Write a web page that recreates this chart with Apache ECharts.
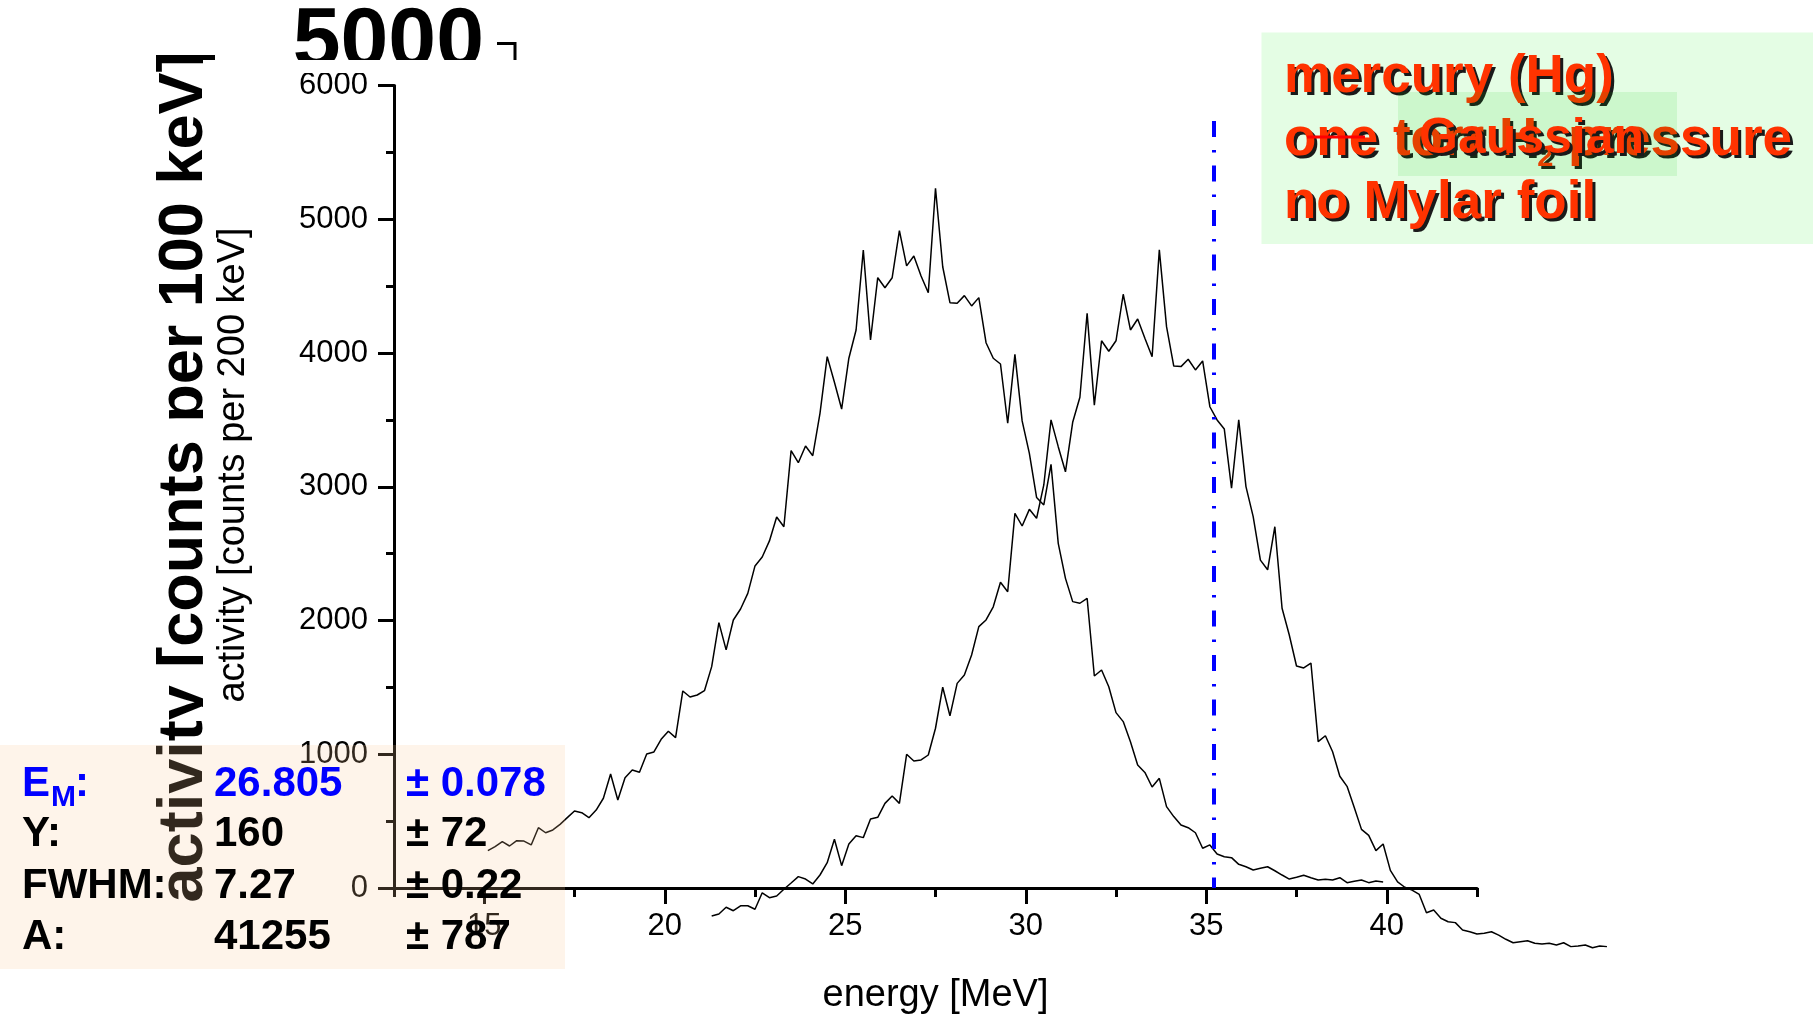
<!DOCTYPE html>
<html>
<head>
<meta charset="utf-8">
<title>activity vs energy</title>
<script src="https://cdn.jsdelivr.net/npm/echarts@6/dist/echarts.min.js"></script>
<style>
  html, body { margin: 0; padding: 0; background: #ffffff; }
  #chart { width: 1813px; height: 1014px; }
</style>
</head>
<body>
<div id="chart"></div>
<script>
// Spectrum A: counts per 200 keV bin, bin centres in MeV
const energyA = [
  15.1, 15.3, 15.5, 15.7, 15.9, 16.1, 16.3, 16.5, 16.7, 16.9,
  17.1, 17.3, 17.5, 17.7, 17.9, 18.1, 18.3, 18.5, 18.7, 18.9,
  19.1, 19.3, 19.5, 19.7, 19.9, 20.1, 20.3, 20.5, 20.7, 20.9,
  21.1, 21.3, 21.5, 21.7, 21.9, 22.1, 22.3, 22.5, 22.7, 22.9,
  23.1, 23.3, 23.5, 23.7, 23.9, 24.1, 24.3, 24.5, 24.7, 24.9,
  25.1, 25.3, 25.5, 25.7, 25.9, 26.1, 26.3, 26.5, 26.7, 26.9,
  27.1, 27.3, 27.5, 27.7, 27.9, 28.1, 28.3, 28.5, 28.7, 28.9,
  29.1, 29.3, 29.5, 29.7, 29.9, 30.1, 30.3, 30.5, 30.7, 30.9,
  31.1, 31.3, 31.5, 31.7, 31.9, 32.1, 32.3, 32.5, 32.7, 32.9,
  33.1, 33.3, 33.5, 33.7, 33.9, 34.1, 34.3, 34.5, 34.7, 34.9,
  35.1, 35.3, 35.5, 35.7, 35.9, 36.1, 36.3, 36.5, 36.7, 36.9,
  37.1, 37.3, 37.5, 37.7, 37.9, 38.1, 38.3, 38.5, 38.7, 38.9,
  39.1, 39.3, 39.5, 39.7, 39.9
];
const countsA = [
  279, 309, 346, 314, 354, 351, 322, 451, 413, 434,
  476, 526, 576, 563, 526, 583, 671, 852, 658, 825,
  882, 865, 1002, 1017, 1112, 1172, 1124, 1473, 1428, 1443,
  1475, 1655, 1984, 1780, 2004, 2086, 2203, 2408, 2475, 2595,
  2774, 2701, 3270, 3180, 3305, 3232, 3549, 3973, 3781, 3581,
  3961, 4172, 4770, 4097, 4563, 4488, 4563, 4915, 4651, 4725,
  4576, 4451, 5232, 4645, 4376, 4372, 4429, 4352, 4414, 4077,
  3961, 3918, 3475, 3990, 3492, 3250, 2920, 2864, 3168, 2577,
  2315, 2141, 2129, 2166, 1585, 1630, 1505, 1311, 1244, 1094,
  919, 864, 755, 820, 608, 534, 471, 451, 413, 297,
  322, 254, 234, 227, 177, 159, 135, 147, 159, 129,
  97, 67, 80, 95, 77, 60, 65, 60, 77, 40,
  50, 60, 40, 52, 45
];

// Spectrum B: second measurement, drawn on its own (hidden) scale
const energyB = [
  21.3, 21.5, 21.7, 21.9, 22.1, 22.3, 22.5, 22.7, 22.9, 23.1,
  23.3, 23.5, 23.7, 23.9, 24.1, 24.3, 24.5, 24.7, 24.9, 25.1,
  25.3, 25.5, 25.7, 25.9, 26.1, 26.3, 26.5, 26.7, 26.9, 27.1,
  27.3, 27.5, 27.7, 27.9, 28.1, 28.3, 28.5, 28.7, 28.9, 29.1,
  29.3, 29.5, 29.7, 29.9, 30.1, 30.3, 30.5, 30.7, 30.9, 31.1,
  31.3, 31.5, 31.7, 31.9, 32.1, 32.3, 32.5, 32.7, 32.9, 33.1,
  33.3, 33.5, 33.7, 33.9, 34.1, 34.3, 34.5, 34.7, 34.9, 35.1,
  35.3, 35.5, 35.7, 35.9, 36.1, 36.3, 36.5, 36.7, 36.9, 37.1,
  37.3, 37.5, 37.7, 37.9, 38.1, 38.3, 38.5, 38.7, 38.9, 39.1,
  39.3, 39.5, 39.7, 39.9, 40.1, 40.3, 40.5, 40.7, 40.9, 41.1,
  41.3, 41.5, 41.7, 41.9, 42.1, 42.3, 42.5, 42.7, 42.9, 43.1,
  43.3, 43.5, 43.7, 43.9, 44.1, 44.3, 44.5, 44.7, 44.9, 45.1,
  45.3, 45.5, 45.7, 45.9, 46.1
];
const countsB = [
  240, 251, 288, 269, 296, 296, 277, 367, 340, 349,
  386, 420, 455, 442, 415, 464, 531, 659, 515, 633,
  678, 668, 770, 779, 855, 895, 855, 1123, 1086, 1092,
  1119, 1265, 1489, 1333, 1510, 1556, 1665, 1820, 1856, 1928,
  2062, 2010, 2438, 2369, 2460, 2411, 2593, 2948, 2802, 2665,
  2935, 3072, 3530, 3029, 3380, 3323, 3380, 3634, 3439, 3499,
  3394, 3293, 3876, 3457, 3242, 3239, 3279, 3221, 3270, 3020,
  2948, 2898, 2575, 2948, 2584, 2420, 2183, 2130, 2365, 1920,
  1774, 1605, 1594, 1621, 1192, 1224, 1137, 1003, 948, 832,
  713, 680, 597, 633, 489, 426, 397, 382, 358, 258,
  273, 228, 209, 204, 164, 154, 142, 146, 154, 136,
  113, 94, 100, 105, 91, 87, 91, 82, 94, 73,
  76, 82, 67, 76, 73
];

// Axis ticks
const xMajorTicks = [15, 20, 25, 30, 35, 40];

// Fitted peak position marker (MeV) and its height on the count scale
const markerEnergy = 35.2;
const markerTop = 5735;

// Fit results table
const fitNames = ['E', 'Y:', 'FWHM:', 'A:'];
const fitValues = ['26.805', '160', '7.27', '41255'];
const fitErrors = ['± 0.078', '± 72', '± 0.22', '± 787'];

// Sample description
const sampleLines = ['mercury (Hg)', 'one torr H', '2', ' pressure', 'no Mylar foil'];
const fitLegendName = 'Gaussian';

const FONT = '"Liberation Sans", Arial, Helvetica, sans-serif';
const ORANGE = '#ff3300';
const SHADOW = '#1a1a1a';

const chart = echarts.init(document.getElementById('chart'), null, { renderer: 'canvas' });

// fit table: one text element per cell
const tableBaselines = [797, 847, 899, 950];
const tableGraphics = [];
function cell(x, y, text, size, colour) {
  return { type: 'text', x: x, y: y, z: 21,
    style: { text: text, font: 'bold ' + size + 'px ' + FONT, fill: colour, align: 'left', verticalAlign: 'middle' } };
}
tableBaselines.forEach((b, i) => {
  const colour = i === 0 ? '#0000ff' : '#000000';
  const cy = b - 13;
  if (i === 0) {
    tableGraphics.push(cell(22, cy, fitNames[0], 42, colour), cell(51, b + 1, 'M', 30, colour), cell(75, cy, ':', 42, colour));
  } else {
    tableGraphics.push(cell(22, cy, fitNames[i], 42, colour));
  }
  tableGraphics.push(cell(214, cy, fitValues[i], 42, colour), cell(406, cy, fitErrors[i], 42, colour));
});

// sample description text (drawn twice: dark drop shadow, then orange)
function descriptionText(dx, dy, colour, z) {
  return { type: 'text', x: 1284 + dx, y: 46 + dy, z: z,
    style: {
      text: '{t|' + sampleLines[0] + '}\n{t|' + sampleLines[1] + '}{s|' + sampleLines[2] + '}{t|' + sampleLines[3] + '}\n{t|' + sampleLines[4] + '}',
      align: 'left', verticalAlign: 'top',
      rich: {
        t: { fontSize: 53, fontWeight: 'bold', fontFamily: FONT, fill: colour, lineHeight: 63 },
        s: { fontSize: 29, fontWeight: 'bold', fontFamily: FONT, fill: colour, lineHeight: 18, verticalAlign: 'bottom' }
      }
    } };
}
function legendText(dx, dy, colour, z) {
  return { type: 'text', x: 1419 + dx, y: 139 + dy, z: z,
    style: { text: fitLegendName, font: 'bold 50px ' + FONT, fill: colour, align: 'left', verticalAlign: 'middle' } };
}

const option = {
  animation: false,
  backgroundColor: '#ffffff',
  grid: [
    { left: 394, right: 336, top: 85.5, bottom: 126, containLabel: false, outerBoundsMode: 'none' },
    { left: 394, right: 155.5, top: 44, bottom: 54, containLabel: false, outerBoundsMode: 'none' }
  ],
  xAxis: [
    {
      type: 'value', gridIndex: 0, position: 'bottom',
      min: 12.5, max: 42.5, interval: 2.5,
      axisLine: { show: true, onZero: false, lineStyle: { color: '#000', width: 3 } },
      axisTick: { show: true, length: 9, lineStyle: { color: '#000', width: 3 } },
      axisLabel: {
        margin: 23, fontSize: 31, fontFamily: FONT, color: '#000',
        formatter: v => (Math.abs(v % 5) < 1e-6 ? String(v) : '')
      },
      splitLine: { show: false },
      name: 'energy [MeV]', nameLocation: 'middle', nameGap: 89,
      nameTextStyle: { fontSize: 38, fontFamily: FONT, color: '#000' }
    },
    {
      type: 'value', gridIndex: 0, position: 'bottom',
      min: 12.5, max: 42.5,
      axisLine: { show: false },
      axisTick: { show: true, length: 16, customValues: xMajorTicks, lineStyle: { color: '#000', width: 3 } },
      axisLabel: { show: false },
      splitLine: { show: false }
    },
    { type: 'value', gridIndex: 1, min: 12.5, max: 47.5, show: false }
  ],
  yAxis: [
    {
      type: 'value', gridIndex: 0, position: 'left',
      min: 0, max: 6000, interval: 1000,
      axisLine: { show: true, onZero: false, lineStyle: { color: '#000', width: 3 } },
      axisTick: { show: true, length: 16, lineStyle: { color: '#000', width: 3 } },
      minorTick: { show: true, splitNumber: 2, length: 8, lineStyle: { color: '#000', width: 3 } },
      axisLabel: { margin: 26, fontSize: 31, fontFamily: FONT, color: '#000', formatter: v => String(v) },
      splitLine: { show: false }
    },
    { type: 'value', gridIndex: 1, min: 0, max: 5000, show: false }
  ],
  series: [
    {
      type: 'line', name: 'spectrum A',
      xAxisIndex: 0, yAxisIndex: 0,
      data: energyA.map((e, i) => [e, countsA[i]]),
      showSymbol: false, symbol: 'none',
      lineStyle: { color: '#000', width: 1.5 },
      z: 3,
      markLine: {
        silent: true, symbol: ['none', 'none'], label: { show: false },
        lineStyle: { color: '#0000ff', width: 4, type: [16, 13, 2.5, 13], cap: 'butt' },
        data: [[{ coord: [markerEnergy, markerTop] }, { coord: [markerEnergy, 0] }]]
      }
    },
    {
      type: 'line', name: 'spectrum B',
      xAxisIndex: 2, yAxisIndex: 1,
      data: energyB.map((e, i) => [e, countsB[i]]),
      showSymbol: false, symbol: 'none',
      lineStyle: { color: '#000', width: 1.5 },
      z: 3
    }
  ],
  graphic: [
    // large axis title of the overlaid spectrum
    { type: 'text', x: 185, y: 477, rotation: Math.PI / 2, z: 5,
      style: { text: 'activity [counts per 100 keV]', font: 'bold 63px ' + FONT, fill: '#000', align: 'center', verticalAlign: 'middle' } },
    { type: 'rect', shape: { x: 203, y: 60, width: 90, height: 870 }, z: 6, style: { fill: '#ffffff' } },
    // top tick of the overlaid spectrum's count axis
    { type: 'text', x: 484, y: 43, z: 5,
      style: { text: '5000', font: 'bold 86px ' + FONT, fill: '#000', align: 'right', verticalAlign: 'middle' } },
    { type: 'polyline', z: 5, shape: { points: [[497, 43.5], [515, 43.5], [515, 60]] },
      style: { stroke: '#000', lineWidth: 3, fill: null } },
    { type: 'rect', shape: { x: 280, y: 60, width: 240, height: 13 }, z: 6, style: { fill: '#ffffff' } },
    // count axis title
    { type: 'text', x: 233.5, y: 465, rotation: Math.PI / 2, z: 7,
      style: { text: 'activity [counts per 200 keV]', font: '38px ' + FONT, fill: '#000', align: 'center', verticalAlign: 'middle' } },
    // sample description box
    { type: 'rect', shape: { x: 1261.5, y: 32.5, width: 552, height: 211.5 }, z: 10, style: { fill: '#e4fde4' } },
    descriptionText(3, 3, SHADOW, 11),
    descriptionText(0, 0, ORANGE, 12),
    // fit legend
    { type: 'rect', shape: { x: 1398, y: 92, width: 279, height: 84 }, z: 13, style: { fill: 'rgba(0,200,0,0.1)' } },
    { type: 'line', z: 16, shape: { x1: 1307, y1: 137, x2: 1365, y2: 137 }, style: { stroke: '#ff0000', lineWidth: 3 } },
    legendText(3, 3, SHADOW, 14),
    legendText(0, 0, ORANGE, 15),
    // fit results table
    { type: 'rect', shape: { x: 0, y: 745, width: 565, height: 224 }, z: 20, style: { fill: 'rgba(250,200,150,0.2)' } }
  ].concat(tableGraphics)
};

chart.setOption(option);
</script>
</body>
</html>
